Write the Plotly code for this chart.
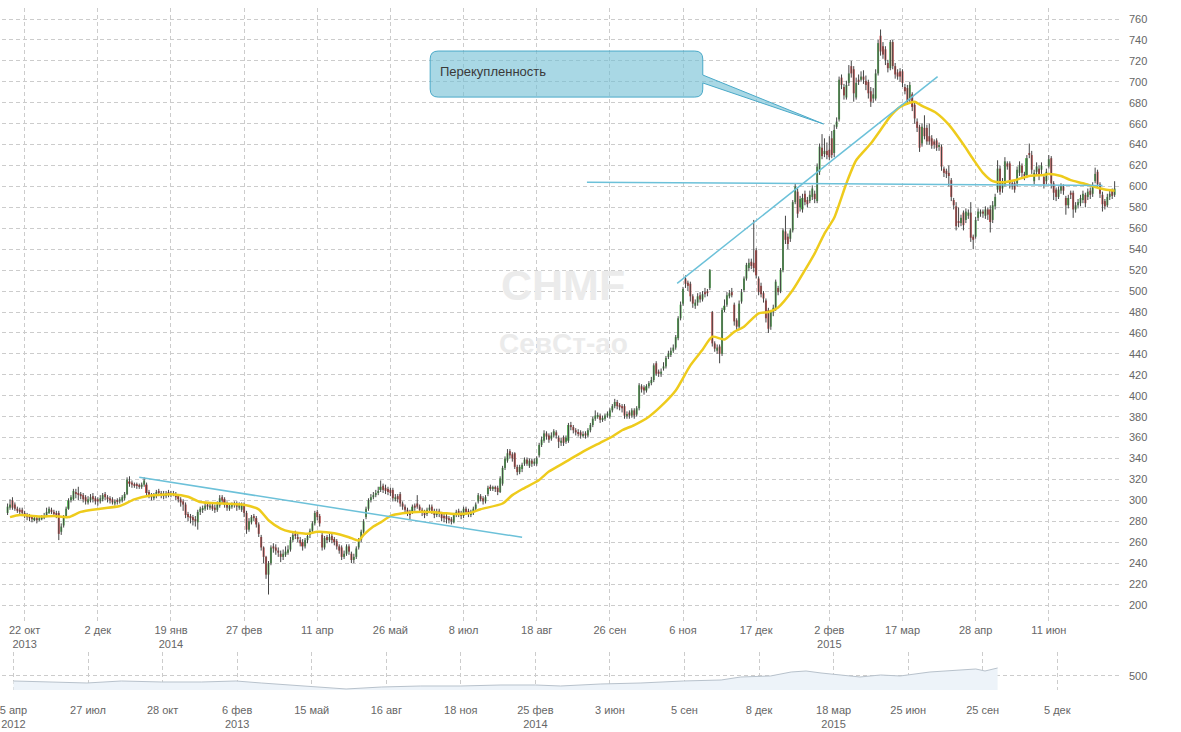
import plotly.graph_objects as go

# ---------------- data (daily candles, CHMF) ----------------
opens = [
288,293,300,296,292,291,291,288,286,285,
284,281,283,281,282,283,285,288,291,289,
288,288,270,276,284,292,300,301,308,307,
306,305,303,298,300,304,302,301,299,301,
306,303,302,301,297,300,299,300,302,306,
318,317,315,315,314,313,315,315,308,305,
302,304,309,307,306,304,308,305,307,306,
304,301,299,296,287,285,284,282,279,289,
291,292,296,293,295,293,291,295,303,301,
297,292,294,297,297,293,291,296,288,272,
279,285,283,277,265,255,246,229,240,256,
255,252,249,246,248,250,253,262,268,265,
262,260,256,262,267,271,278,289,285,267,
255,265,262,266,263,261,256,255,246,249,
256,249,243,246,255,262,270,284,292,300,
303,305,307,310,314,312,311,310,310,301,
304,306,297,294,291,289,289,295,297,294,
291,289,287,291,294,290,286,290,287,285,
285,283,282,279,286,290,288,285,292,290,
286,288,292,299,304,302,299,306,313,311,
312,312,308,316,331,338,347,344,345,332,
327,330,335,339,333,338,335,335,343,353,
357,364,362,359,362,365,360,355,360,356,
357,372,370,367,365,365,362,364,362,367,
372,378,380,381,377,378,381,380,386,390,
394,391,390,390,381,384,381,386,382,388,
409,408,405,409,412,415,431,423,421,426,
428,437,439,443,446,455,474,488,512,508,
507,495,486,489,496,492,499,500,503,480,
450,443,447,440,482,487,495,499,487,472,
466,490,501,512,522,528,527,539,512,505,
498,491,482,466,480,483,503,500,520,557,
552,550,558,585,595,580,578,593,587,586,
590,593,586,614,637,631,634,635,646,632,
657,664,704,695,685,699,715,712,685,702,
702,705,701,700,691,684,684,708,744,734,
731,718,713,738,715,709,710,710,695,694,
683,688,678,662,657,641,656,656,648,646,
643,644,638,638,617,615,613,606,587,581,
567,565,575,568,572,575,552,552,570,574,
576,572,578,578,568,581,597,617,598,602,
622,622,603,603,603,613,620,611,611,632,
630,605,614,617,616,609,605,619,627,603,
597,590,596,600,589,582,594,594,578,582,
584,587,592,590,596,593,605,614,602,592,
586,582,590,596,592]

highs = [
297,301,303,298,294,293,293,290,288,287,
286,286,285,285,286,288,293,294,293,291,
290,290,278,286,294,302,305,311,311,313,
308,307,305,304,306,307,304,303,305,307,
308,305,304,303,301,302,303,305,308,322,
323,319,317,317,316,317,322,317,310,307,
307,310,311,309,309,309,310,309,309,308,
306,303,301,298,289,287,286,285,291,294,
295,298,298,297,297,296,299,305,305,303,
299,297,298,299,299,298,298,298,290,283,
286,287,285,279,267,256,247,242,257,259,
258,255,252,253,256,257,265,269,271,268,
265,263,264,268,273,280,290,291,287,269,
266,267,268,268,265,263,258,257,252,258,
258,251,249,256,264,272,282,294,302,306,
308,310,313,319,316,315,313,312,312,306,
306,308,299,296,293,291,296,297,305,296,
293,291,293,296,296,292,292,292,289,287,
287,285,284,288,291,292,290,294,294,292,
291,294,298,307,306,304,305,314,315,314,
314,314,323,333,342,349,349,346,346,334,
334,336,341,341,340,340,340,342,355,361,
367,366,364,365,368,367,362,360,362,362,
374,375,372,369,368,367,366,366,369,374,
380,386,384,383,381,383,385,388,392,397,
396,393,392,392,385,386,388,388,390,412,
411,410,411,414,418,431,433,425,426,432,
438,443,446,449,458,476,490,504,515,510,
509,497,492,498,499,500,503,502,521,481,
452,449,449,484,492,499,501,503,489,474,
491,502,514,527,531,531,568,541,514,508,
500,493,484,482,487,511,505,522,560,572,
555,560,587,603,598,591,593,596,590,596,
601,596,622,641,650,646,642,648,653,659,
666,705,707,698,701,716,720,715,704,707,
710,711,706,702,695,694,712,740,750,738,
734,721,740,740,718,712,713,712,698,697,
700,690,681,665,659,660,668,659,660,649,
645,646,642,640,619,617,620,608,589,585,
580,573,577,579,578,585,554,571,579,578,
578,581,580,582,586,593,625,620,608,628,
624,624,605,606,619,624,622,614,630,641,
634,616,623,620,623,612,617,630,629,605,
599,600,603,602,591,592,596,596,585,588,
592,596,594,598,599,604,618,616,604,595,
588,593,596,598,605]

lows = [
286,291,291,290,288,286,285,283,281,280,
279,280,278,280,281,282,284,287,287,285,
283,262,267,274,283,291,298,300,302,300,
301,298,296,296,298,298,296,295,297,299,
300,298,297,296,295,296,297,298,300,305,
313,312,312,311,311,311,313,305,302,300,
300,302,304,302,301,302,303,303,304,300,
298,294,290,283,280,278,276,275,272,286,
288,290,291,291,290,288,289,293,297,293,
290,290,292,293,290,291,289,284,268,270,
277,280,274,265,252,240,225,210,238,250,
248,246,241,243,246,248,251,260,263,260,
256,252,254,259,264,269,276,281,275,252,
253,259,260,259,257,253,249,243,244,247,
248,240,240,244,253,260,268,282,290,298,
301,303,305,308,307,306,305,304,299,299,
298,294,291,288,285,282,287,290,292,288,
285,283,285,289,287,283,284,284,280,279,
278,278,277,278,284,284,282,283,286,284,
284,286,290,297,299,296,297,304,309,309,
308,305,307,314,329,336,340,337,330,324,
325,327,333,333,331,332,333,333,341,351,
355,358,355,357,360,359,350,352,352,354,
355,367,364,362,361,359,360,359,360,365,
370,376,378,374,375,376,379,378,384,388,
387,386,384,378,378,378,379,378,380,386,
403,401,403,407,410,413,419,418,418,424,
426,435,437,441,444,453,472,486,503,500,
490,484,483,486,489,490,494,495,501,447,
442,440,431,438,480,485,493,494,467,462,
464,488,499,510,519,521,518,512,496,494,
489,470,460,463,476,481,496,498,518,545,
540,547,556,583,570,576,575,582,580,584,
587,584,584,611,626,628,626,625,627,628,
655,662,693,683,683,696,704,681,683,697,
700,698,692,684,676,680,682,706,725,722,
716,709,711,712,703,702,700,695,688,678,
680,672,660,652,633,638,645,640,640,636,
636,634,634,615,609,608,600,586,578,558,
561,562,558,565,569,547,540,550,567,571,
570,569,568,556,565,578,594,592,594,600,
616,598,597,594,600,610,609,606,608,627,
612,602,611,606,612,598,602,617,598,587,
586,588,593,592,573,579,588,570,575,579,
581,584,580,587,588,590,603,598,589,576,
578,580,587,588,590]

closes = [
294,296,293,292,290,289,288,286,284,283,
282,283,281,283,284,285,289,292,289,287,
286,268,275,284,292,300,303,309,306,306,
304,301,299,301,303,301,299,299,302,305,
303,301,300,298,299,299,301,303,306,320,
316,315,314,314,313,315,319,307,305,303,
305,308,307,305,304,307,306,307,306,303,
301,298,296,286,284,283,281,280,289,292,
292,295,294,295,292,291,296,302,300,296,
293,295,296,296,294,296,296,288,272,280,
284,283,277,268,255,246,229,240,255,254,
252,250,246,249,251,253,262,267,266,263,
259,256,262,266,271,278,288,284,278,255,
264,262,265,262,260,256,252,246,249,256,
251,243,246,254,262,270,280,292,300,303,
305,307,309,313,310,309,308,307,302,303,
301,297,294,291,288,286,294,293,294,291,
288,286,291,293,290,286,289,287,283,283,
282,281,280,286,289,287,285,292,289,287,
288,292,296,305,301,299,303,312,311,312,
311,308,321,331,340,345,343,340,332,327,
332,334,339,335,338,335,337,340,353,358,
364,361,358,362,366,362,356,357,355,360,
372,370,367,365,364,362,363,362,367,372,
378,381,381,377,378,381,383,386,390,394,
390,389,388,381,382,381,386,381,388,410,
406,405,409,412,415,429,421,421,423,428,
436,440,443,446,456,474,487,502,507,505,
495,488,489,495,492,497,497,498,520,450,
445,446,440,482,486,496,498,496,471,466,
488,499,512,525,527,524,522,515,499,497,
493,474,464,480,484,509,499,520,558,549,
545,558,585,600,574,588,589,585,583,592,
598,588,619,638,629,634,630,628,630,654,
662,702,697,687,697,708,708,689,699,700,
705,702,697,689,681,688,708,737,729,726,
721,713,738,715,707,705,705,699,691,681,
697,676,665,656,637,657,648,643,643,639,
640,637,639,619,613,612,610,590,582,562,
565,570,563,576,575,551,549,568,576,576,
574,578,573,566,582,590,617,595,605,624,
619,603,601,597,616,620,613,610,627,630,
616,613,619,610,620,602,614,626,603,594,
590,597,600,596,582,589,592,578,582,585,
589,593,584,595,592,601,612,602,593,583,
581,590,593,591,598]

assert len(opens) == len(highs) == len(lows) == len(closes), (len(opens), len(highs), len(lows), len(closes))
days = list(range(len(closes)))

# moving average
ma_days = [1,5,14,19,25,30,38,46,52,58,68,74,79,88,96,103,107,112,116,123,
           127,134,140,144,146,150,153,157,162,170,178,183,189,194,203,207,211,218,222,229,
           236,243,248,252,257,263,268,274,280,285,289,294,298,302,308,312,316,322,327,331,
           335,339,344,348,354,358,362,366,370,372,375,381,386,392,396,400,404,408,413,419,
           425,427,432,436,441,446,450,454]
ma_vals = [284,286,284.5,285,284,289,292,294.6,301,304.4,305.7,303.5,298.4,297,296,291.4,281,273,270,268,
           270,268.6,264.8,261.6,267,275,279,285,287.6,289,288,287,287.6,291.5,297,305,310.6,319.5,327.5,337,
           346.6,355,361,367,372,380,390,405,429,444,456.4,453.8,461,466,478.7,480,484.4,501,520,536,
           555,570,603,625,641,654,667,676,680,681,677,670,659,640,626,613,605,604,606,610,
           611,612,610,606,603,599.5,597,596]

# main x-axis labels (every 30 trading days)
tick_days = [7,37,67,97,127,157,187,217,247,277,307,337,367,397,427]
tick_text = ["22 окт<br>2013","2 дек","19 янв<br>2014","27 фев","11 апр","26 май","8 июл",
             "18 авг","26 сен","6 ноя","17 дек","2 фев<br>2015","17 мар","28 апр","11 июн"]
price_ticks = list(range(200, 761, 20))

# navigator series
nav_pos = [0,33,64,94,129,164,194,216,251,277,290,321,355,390,425,455,477,512,547,584,
           617,634,660,678,691,704,738,756,773,799,825,839,847,858]
nav_vals = [405,386,367,405,386,386,405,367,310,272,253,291,310,310,329,329,310,348,367,405,
            424,481,500,576,595,557,481,519,500,576,614,633,595,652]
nav_ticks = [0,65,130,195,260,325,390,455,520,585,650,715,780,845,910]
nav_text = ["5 апр<br>2012","27 июл","28 окт","6 фев<br>2013","15 май","16 авг","18 ноя",
            "25 фев<br>2014","3 июн","5 сен","8 дек","18 мар<br>2015","25 июн","25 сен","5 дек"]

# drawn annotations: trend lines (day, price) pairs
trend_lines = [
    ((54, 322), (211, 264.7)),
    ((274.6, 507.4), (381.4, 705)),
    ((237.6, 604), (449, 601)),
]
callout_box = (173.3, 285.1, 685.4, 729.4)   # day0, day1, price_bottom, price_top
callout_tip = (334.6, 659.7)
callout_base = (706.5, 698.9)
callout_text = "Перекупленность"

GREEN = "#5cb85c"
RED = "#cf5250"
WICK = "#454545"
GRID = "#cccccc"
DASH = "4px,3px"
FONT = "Liberation Sans, Arial, sans-serif"

fig = go.Figure()

# wicks
wx, wy = [], []
for d, h, l in zip(days, highs, lows):
    wx += [d, d, None]
    wy += [l, h, None]
fig.add_trace(go.Scatter(x=wx, y=wy, mode="lines", line=dict(color=WICK, width=1),
                         hoverinfo="skip", xaxis="x", yaxis="y"))

# bodies
base = [min(o, c) for o, c in zip(opens, closes)]
height = [max(abs(c - o), 0.9) for o, c in zip(opens, closes)]
colors = [GREEN if c >= o else RED for o, c in zip(opens, closes)]
fig.add_trace(go.Bar(x=days, y=height, base=base, width=0.82,
                     marker=dict(color=colors, line=dict(width=0)),
                     xaxis="x", yaxis="y"))

# moving average
fig.add_trace(go.Scatter(x=ma_days, y=ma_vals, mode="lines",
                         line=dict(color="#eecb1c", width=2.5, shape="spline", smoothing=0.6),
                         xaxis="x", yaxis="y"))

# navigator
fig.add_trace(go.Scatter(x=nav_pos, y=nav_vals, mode="lines", fill="tozeroy",
                         fillcolor="#edf3f9", line=dict(color="#b8c2cc", width=1),
                         xaxis="x2", yaxis="y2"))

shapes = []
for (x0, y0), (x1, y1) in trend_lines:
    shapes.append(dict(type="line", xref="x", yref="y", x0=x0, y0=y0, x1=x1, y1=y1,
                       line=dict(color="#6cc1d9", width=1.5), layer="above"))

# callout box with pointer
bx0, bx1, byb, byt = callout_box
rx, ry = 3.3, 7.6
tx, ty = callout_tip
p1, p2 = callout_base
path = (f"M {bx0+rx},{byt} L {bx1-rx},{byt} Q {bx1},{byt} {bx1},{byt-ry} "
        f"L {bx1},{p1} L {tx},{ty} L {bx1},{p2} "
        f"L {bx1},{byb+ry} Q {bx1},{byb} {bx1-rx},{byb} "
        f"L {bx0+rx},{byb} Q {bx0},{byb} {bx0},{byb+ry} "
        f"L {bx0},{byt-ry} Q {bx0},{byt} {bx0+rx},{byt} Z")
shapes.append(dict(type="path", xref="x", yref="y", path=path,
                   fillcolor="rgba(112,190,212,0.6)", line=dict(color="#4aa9c8", width=1),
                   layer="above"))

annotations = [
    dict(text=callout_text, xref="x", yref="y", x=bx0 + 3.2, y=710.3, xanchor="left",
         yanchor="middle", showarrow=False, font=dict(family=FONT, size=13, color="#3a3a3a")),
    dict(text="<b>CHMF</b>", xref="paper", yref="paper", x=0.5018, y=0.6107,
         xanchor="center", yanchor="middle", showarrow=False,
         font=dict(family=FONT, size=43, color="#ebebeb")),
    dict(text="<b>СевСт-ао</b>", xref="paper", yref="paper", x=0.5018, y=0.5314,
         xanchor="center", yanchor="middle", showarrow=False,
         font=dict(family=FONT, size=28, color="#ebebeb")),
]

axis_font = dict(family=FONT, size=11, color="#666666")
fig.update_layout(
    width=1181, height=732,
    margin=dict(l=0, r=61, t=0, b=0),
    paper_bgcolor="white", plot_bgcolor="white",
    showlegend=False, barmode="overlay",
    font=dict(family=FONT, size=11, color="#666666"),
    shapes=shapes, annotations=annotations,
    xaxis=dict(domain=[0, 1], anchor="y", range=[-2.29, 456.2],
               tickmode="array", tickvals=tick_days, ticktext=tick_text,
               showgrid=True, gridcolor=GRID, griddash=DASH, gridwidth=1,
               zeroline=False, showline=False, ticks="", tickfont=axis_font,
               fixedrange=True),
    yaxis=dict(domain=[0.15027, 0.98907], anchor="x", range=[183.75, 770.53],
               side="right", tickmode="array", tickvals=price_ticks,
               showgrid=True, gridcolor=GRID, griddash=DASH, gridwidth=1,
               zeroline=False, showline=False, ticks="", tickfont=axis_font,
               ticklabelstandoff=8),
    xaxis2=dict(domain=[0, 1], anchor="y2", range=[-10, 964.7],
                tickmode="array", tickvals=nav_ticks, ticktext=nav_text,
                showgrid=True, gridcolor=GRID, griddash=DASH, gridwidth=1,
                zeroline=False, showline=False, ticks="", tickfont=axis_font,
                ticklabelstandoff=12, ticklabeloverflow="allow"),
    yaxis2=dict(domain=[0.05738, 0.10929], anchor="x2", range=[234, 956],
                side="right", tickmode="array", tickvals=[500], ticktext=["500"],
                showgrid=True, gridcolor=GRID, griddash=DASH, gridwidth=1,
                zeroline=False, showline=False, ticks="", tickfont=axis_font,
                ticklabelstandoff=8),
)

fig.write_html("out.html")
